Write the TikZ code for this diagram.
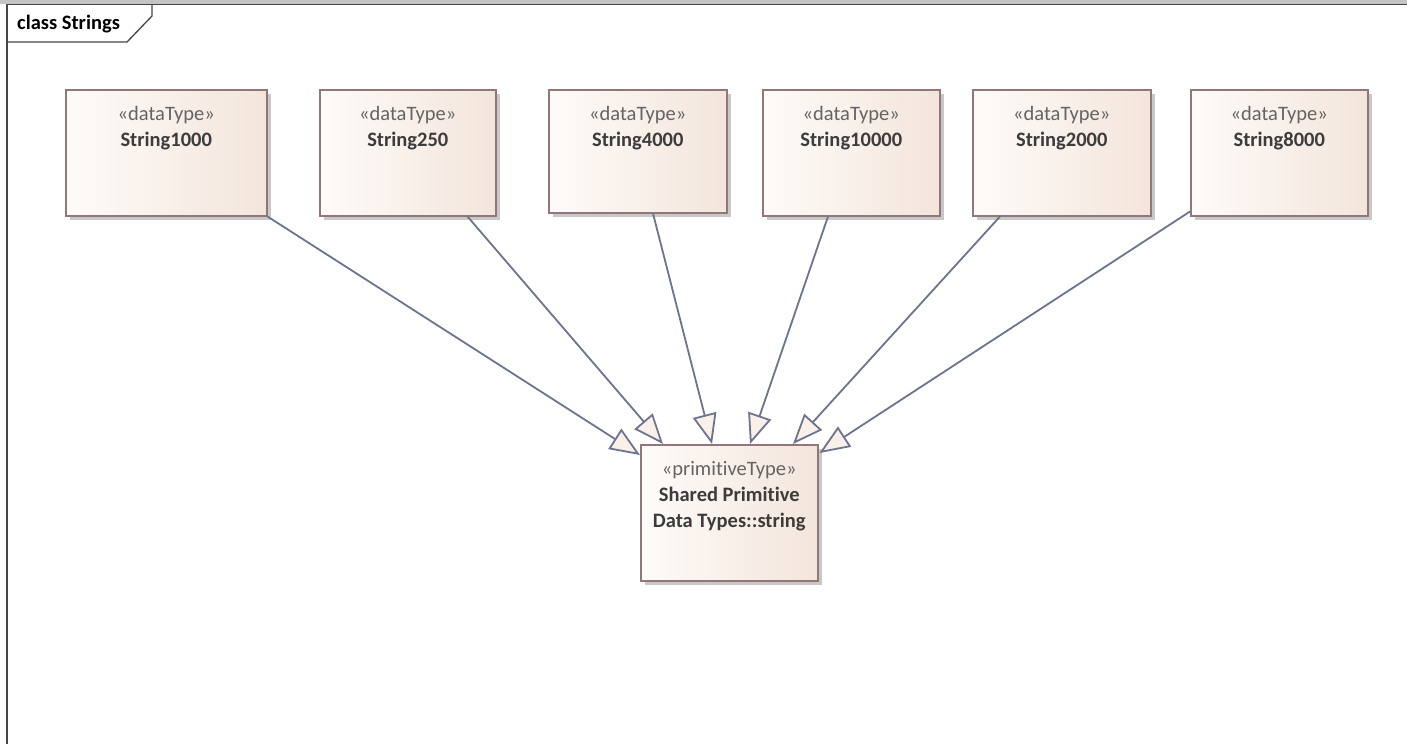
\documentclass[tikz,border=0pt]{standalone}
\usepackage{fontspec}
\setmainfont[Ligatures=NoCommon]{Carlito}
\usetikzlibrary{arrows.meta,shadows,calc}
\definecolor{framegray}{RGB}{196,196,196}
\definecolor{frameline}{RGB}{70,70,70}
\definecolor{boxborder}{RGB}{145,120,120}
\definecolor{boxl}{RGB}{254,251,249}
\definecolor{boxr}{RGB}{243,229,219}
\definecolor{shadowgray}{RGB}{200,200,200}
\definecolor{textdark}{RGB}{60,60,60}
\definecolor{textster}{RGB}{100,100,100}
\definecolor{conn}{RGB}{108,116,142}
\definecolor{afill}{RGB}{250,240,234}
\tikzset{
  dtbox/.style={draw=boxborder, line width=1.5pt, left color=boxl, right color=boxr,
    drop shadow={shadow xshift=4pt, shadow yshift=-4pt, fill=shadowgray, opacity=1},
    anchor=north west, inner sep=0pt},
  ster/.style={anchor=base, text=textster, inner sep=0pt, font=\fontsize{20.5}{26}\selectfont},
  tname/.style={anchor=base, text=textdark, inner sep=0pt, align=center, font=\fontsize{20.5}{26}\selectfont\bfseries},
  gen/.style={draw=conn, line width=1.8pt, -{Triangle[length=30pt, width=24pt, fill=afill]}}
}
\begin{document}
\begin{tikzpicture}[x=1pt, y=-1pt]
\useasboundingbox (0,0) rectangle (1407,744);
\fill[white] (0,0) rectangle (1407,744);
% frame
\fill[framegray] (0,0) rectangle (1407,3.5);
\draw[frameline, line width=1.6pt] (7,744) -- (7,4.6) -- (1407,4.6);
\draw[frameline, line width=1.3pt] (152,4.6) -- (152,16) -- (127,42) -- (7,42);
\node[anchor=base west, inner sep=0pt, text=black, font=\fontsize{20.5}{26}\selectfont\bfseries] (title) at (17,29) {class Strings};
% boxes
\node[dtbox, minimum width=201pt, minimum height=126pt] (s1) at (65,89) {};
\node[dtbox, minimum width=176pt, minimum height=126pt] (s2) at (319,89) {};
\node[dtbox, minimum width=178pt, minimum height=123pt] (s3) at (548,89) {};
\node[dtbox, minimum width=177pt, minimum height=126pt] (s4) at (762,89) {};
\node[dtbox, minimum width=178pt, minimum height=126pt] (s5) at (972,89) {};
\node[dtbox, minimum width=177pt, minimum height=126pt] (s6) at (1190,89) {};
\node[dtbox, minimum width=177pt, minimum height=136pt] (prim) at (640,444) {};
% texts
\foreach \b/\n in {s1/String1000, s2/String250, s3/String4000, s4/String10000, s5/String2000, s6/String8000}{
  \node[ster] (\b-st) at ($(\b.north)+(0,31)$) {«dataType»};
  \node[tname] (\b-nm) at ($(\b.north)+(0,57)$) {\n};
}
\node[ster] (prim-st) at ($(prim.north)+(0,31)$) {«primitiveType»};
\node[tname] (prim-nm) at ($(prim.north)+(0,83)$) {Shared Primitive\\Data Types::string};
% connectors
\draw[gen] (s1.south east) -- ($(prim.north west)+(0,11)$);
\draw[gen] ($(s2.south east)+(-29,0)$) -- ($(prim.north west)+(23,0)$);
\draw[gen] ($(s3.south west)+(105,0)$) -- ($(prim.north west)+(72,0)$);
\draw[gen] ($(s4.south west)+(66,0)$) -- ($(prim.north west)+(110,0)$);
\draw[gen] ($(s5.south west)+(28,0)$) -- ($(prim.north west)+(153,0)$);
\draw[gen] ($(s6.south west)+(0,-5)$) -- ($(prim.north east)+(1,9)$);
\end{tikzpicture}
\end{document}
